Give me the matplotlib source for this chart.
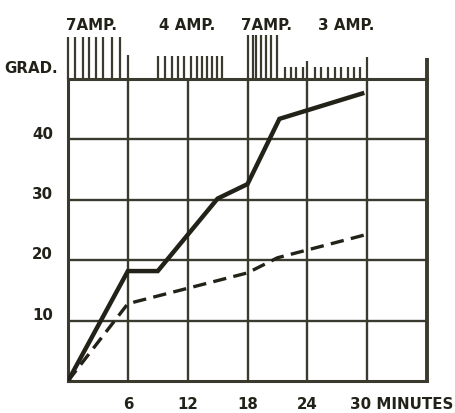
import matplotlib
matplotlib.use('Agg')
import matplotlib.pyplot as plt

# curves (minutes, graduations)
solid_min = [0, 6, 9, 15, 18, 21.2, 29.5]
solid_grad = [0, 18.2, 18.2, 30.2, 32.6, 43.4, 47.6]
dashed_min = [0, 6, 18, 21, 29.8]
dashed_grad = [0, 12.8, 17.9, 20.4, 24.2]

# graduation marks along the top strip (minutes)
seven_amp_a = [0.0, 0.7, 1.5, 2.1, 2.8, 3.5, 4.4, 5.2]
four_amp = [9.0, 9.7, 10.4, 11.0, 11.6, 12.3, 12.9, 13.4, 13.9, 14.4, 14.9, 15.4]
seven_amp_b = [18.0, 18.5, 18.9, 19.4, 19.9, 20.4, 20.95]
three_amp = [21.8, 22.4, 22.9, 23.6, 24.8, 25.4, 26.1, 26.8, 27.4, 28.1, 28.7, 29.3]
minute_marks = [6, 24, 30]
minute_mark_heights = [4.0, 3.0, 3.6]

amp_labels = ['7AMP.', '4 AMP.', '7AMP.', '3 AMP.']
amp_label_pos = [2.4, 11.9, 19.9, 27.9]

x_ticks = [6, 12, 18, 24]
y_ticks = [10, 20, 30, 40]

ink = '#3a3a2e'
dark = '#222219'

fig = plt.figure(figsize=(4.55, 4.14), dpi=100)
ax = fig.add_axes([0.1495, 0.0773, 0.789, 0.7295])
ax.set_xlim(0, 36)
ax.set_ylim(0, 50)

# grid
for gx in range(6, 36, 6):
    ax.axvline(gx, color=ink, lw=1.7, zorder=1)
for gy in range(10, 50, 10):
    ax.axhline(gy, color=ink, lw=1.7, zorder=1)
for side in ['left', 'right', 'top', 'bottom']:
    ax.spines[side].set_color(ink)
    ax.spines[side].set_linewidth(2.2)
ax.spines['right'].set_linewidth(2.8)
ax.set_xticks([])
ax.set_yticks([])

# curves
ax.plot(solid_min, solid_grad, color=dark, lw=3.2, solid_joinstyle='miter', zorder=3)
ax.plot(dashed_min, dashed_grad, color=dark, lw=2.4, dashes=(4, 2.2), zorder=3)

# top strip of graduation marks
kw = dict(color=ink, lw=1.6, clip_on=False)
ax.vlines(seven_amp_a, 50, 57.0, **kw)
ax.vlines(four_amp, 50, 53.8, **kw)
ax.vlines(seven_amp_b, 50, 57.2, **kw)
ax.vlines(three_amp, 50, 52.0, **kw)
for m, h in zip(minute_marks, minute_mark_heights):
    ax.vlines(m, 50, 50 + h, **kw)
ax.vlines(36, 50, 53.4, color=ink, lw=2.8, clip_on=False)

font = dict(fontweight='bold', fontsize=10.8, color=dark, family='DejaVu Sans')
for lab, pos in zip(amp_labels, amp_label_pos):
    ax.text(pos, 58.3, lab, ha='center', va='baseline', **font)
ax.text(-1.0, 51.2, 'GRAD.', ha='right', va='baseline', **font)

for yt in y_ticks:
    ax.text(-1.5, yt + 0.3, str(yt), ha='right', va='baseline', **font)
for xt in x_ticks:
    ax.text(xt, -2.5, str(xt), ha='center', va='top', **font)
ax.text(28.3, -2.5, '30 MINUTES', ha='left', va='top', **font)

fig.savefig('out.png', dpi=100, facecolor='white')
